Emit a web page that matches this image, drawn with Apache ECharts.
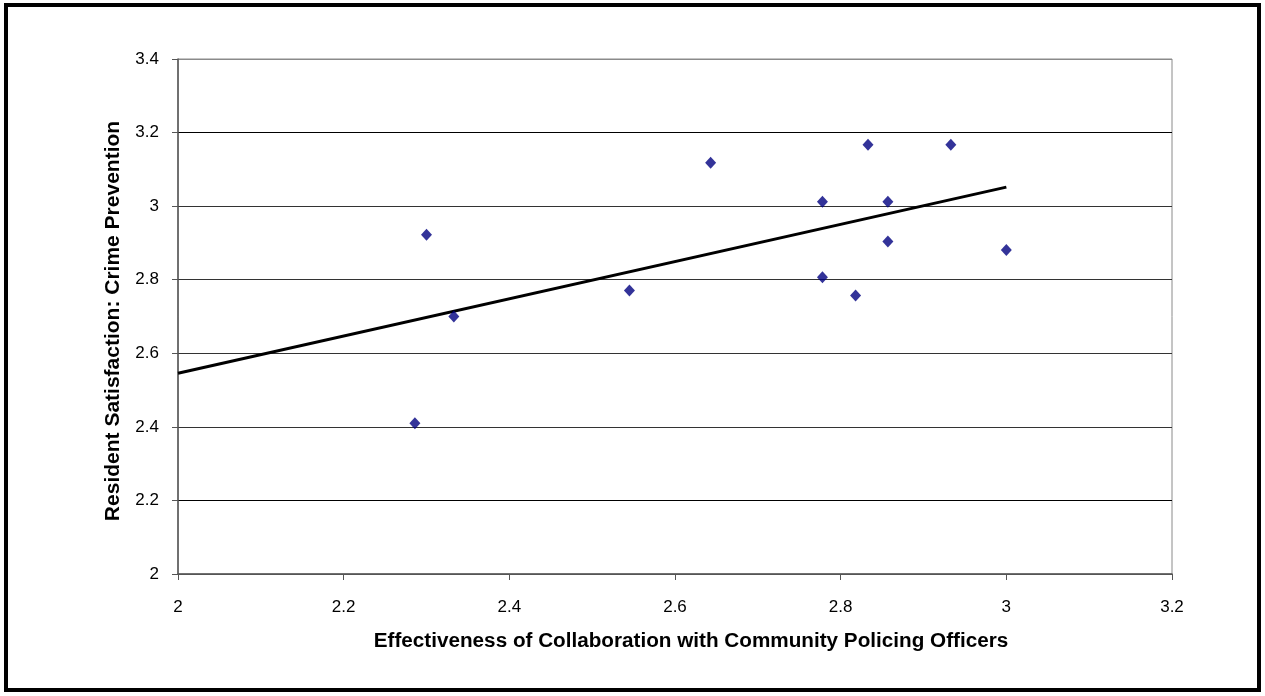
<!DOCTYPE html>
<html>
<head>
<meta charset="utf-8">
<script src="https://cdn.jsdelivr.net/npm/echarts@6/dist/echarts.min.js"></script>
<style>
html,body{margin:0;padding:0;background:#fff;}
#chart{width:1265px;height:696px;}
</style>
</head>
<body>
<div id="chart"></div>
<script>
// Data
const collaboration = [2.300, 2.333, 2.286, 2.545, 2.643, 2.778, 2.778, 2.818, 2.833, 2.933, 2.857, 2.857, 3.000];
const satisfaction  = [2.922, 2.700, 2.410, 2.771, 3.118, 3.012, 2.807, 2.757, 3.167, 3.167, 3.012, 2.904, 2.881];
const xTicks = [2, 2.2, 2.4, 2.6, 2.8, 3, 3.2];
const yTicks = [2, 2.2, 2.4, 2.6, 2.8, 3, 3.2, 3.4];
const xTitle = 'Effectiveness of Collaboration with Community Policing Officers';
const yTitle = 'Resident Satisfaction: Crime Prevention';

// Linear (least squares) trendline, computed from the data
const n = collaboration.length;
const mx = collaboration.reduce((a, b) => a + b, 0) / n;
const my = satisfaction.reduce((a, b) => a + b, 0) / n;
let sxy = 0, sxx = 0;
for (let i = 0; i < n; i++) {
  sxy += (collaboration[i] - mx) * (satisfaction[i] - my);
  sxx += (collaboration[i] - mx) * (collaboration[i] - mx);
}
const slope = sxy / sxx;
const intercept = my - slope * mx;
const trendX = [xTicks[0], Math.max(...collaboration)];
const trend = trendX.map(x => [x, intercept + slope * x]);

const points = collaboration.map((x, i) => [x, satisfaction[i]]);

const chart = echarts.init(document.getElementById('chart'), null, {renderer: 'canvas'});
const font = '"Liberation Sans", Arial, sans-serif';
chart.setOption({
  animation: false,
  backgroundColor: '#fff',
  graphic: [{
    type: 'rect',
    shape: {x: 6, y: 5, width: 1253, height: 685},
    style: {fill: 'none', stroke: '#000', lineWidth: 4},
    silent: true
  }],
  grid: {left: 178, right: 93, top: 59, bottom: 122, show: true, borderColor: '#8a8a8a', borderWidth: 1, backgroundColor: 'transparent'},
  xAxis: {
    type: 'value', min: xTicks[0], max: xTicks[xTicks.length - 1], interval: 0.2,
    name: xTitle, nameLocation: 'middle', nameGap: 57,
    nameTextStyle: {fontFamily: font, fontSize: 20.7, fontWeight: 'bold', color: '#000', padding: [0, 0, 0, 32]},
    axisLine: {show: true, onZero: false, lineStyle: {color: '#555', width: 1.5}},
    axisTick: {show: true, inside: false, length: 6, lineStyle: {color: '#555'}},
    axisLabel: {fontFamily: font, fontSize: 17, color: '#000', margin: 25,
      formatter: v => String(+v.toFixed(1))},
    splitLine: {show: false}
  },
  yAxis: {
    type: 'value', min: yTicks[0], max: yTicks[yTicks.length - 1], interval: 0.2,
    name: yTitle, nameLocation: 'middle', nameGap: 54, nameRotate: 90,
    nameTextStyle: {fontFamily: font, fontSize: 21, fontWeight: 'bold', color: '#000', padding: [0, 9, 0, 0]},
    axisLine: {show: true, onZero: false, lineStyle: {color: '#555', width: 1.5}},
    axisTick: {show: true, inside: false, length: 6, lineStyle: {color: '#555'}},
    axisLabel: {fontFamily: font, fontSize: 17, color: '#000', margin: 19,
      formatter: v => String(+v.toFixed(1))},
    splitLine: {show: true, lineStyle: {color: ['#555', '#000', '#333', '#333', '#333', '#333', '#000', '#8a8a8a'], width: 1}}
  },
  series: [{
    type: 'scatter',
    data: points,
    symbol: 'diamond',
    symbolSize: [11, 12],
    itemStyle: {color: '#000080'},
    z: 3
  }, {
    type: 'line',
    data: trend,
    showSymbol: false,
    symbol: 'none',
    lineStyle: {color: '#000', width: 3},
    z: 2
  }]
});
</script>
</body>
</html>
